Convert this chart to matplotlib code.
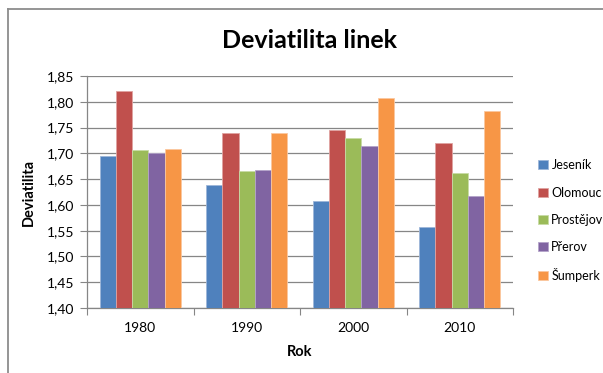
import numpy as np
import matplotlib
matplotlib.use("Agg")
import matplotlib.pyplot as plt
from matplotlib.lines import Line2D

plt.rcParams['font.family'] = ['Lato', 'DejaVu Sans']

# Data
years = ['1980', '1990', '2000', '2010']
towns = ['Jeseník', 'Olomouc', 'Prostějov', 'Přerov', 'Šumperk']
jesenik = [1.694, 1.638, 1.608, 1.558]
olomouc = [1.820, 1.739, 1.745, 1.721]
prostejov = [1.706, 1.665, 1.729, 1.661]
prerov = [1.700, 1.668, 1.715, 1.617]
sumperk = [1.708, 1.740, 1.807, 1.782]
yticks = [1.40, 1.45, 1.50, 1.55, 1.60, 1.65, 1.70, 1.75, 1.80, 1.85]

series = [jesenik, olomouc, prostejov, prerov, sumperk]
colors = ['#4F81BD', '#C0504D', '#9BBB59', '#8064A2', '#F79646']
edges = ['#9db6d9', '#e0a3a1', '#c8dba6', '#b4a3c9', '#fbc79f']

W, H = 603, 373
fig = plt.figure(figsize=(W / 100, H / 100), dpi=100)
ax = fig.add_axes([87 / W, 1 - 308 / H, (513 - 87) / W, (308 - 76) / H])

x = np.arange(len(years))
bw = 0.152
for i, (vals, c, ec) in enumerate(zip(series, colors, edges)):
    ax.bar(x + (i - 2) * bw, np.array(vals) - 1.40, bw, bottom=1.40,
           color=c, edgecolor=ec, linewidth=0.6, label=towns[i], zorder=3)

grid_c = '#868686'
ax.set_ylim(1.40, 1.85)
ax.set_xlim(-0.5, len(years) - 0.5)
ax.set_yticks(yticks)
ax.set_yticklabels([f'{v:.2f}'.replace('.', ',') for v in yticks], fontsize=10)
ax.yaxis.grid(True, color=grid_c, linewidth=0.9, zorder=0)
ax.set_axisbelow(True)

# category ticks on boundaries, labels in the middle
ax.set_xticks(np.arange(len(years) + 1) - 0.5)
ax.set_xticklabels([])
ax.set_xticks(x, minor=True)
ax.set_xticklabels(years, minor=True, fontsize=10)
ax.tick_params(axis='x', which='minor', length=0, pad=10)
ax.tick_params(axis='x', which='major', length=5, color=grid_c)
ax.tick_params(axis='y', length=5, color=grid_c, pad=4)

for s in ['top', 'right']:
    ax.spines[s].set_visible(False)
for s in ['left', 'bottom']:
    ax.spines[s].set_color(grid_c)
    ax.spines[s].set_linewidth(0.9)

ax.set_ylabel('Deviatilita', fontsize=10.5, fontweight='bold', labelpad=8)
ax.set_xlabel('Rok', fontsize=10.5, fontweight='bold', labelpad=8)

fig.text(309.5 / W, 1 - 40 / H, 'Deviatilita linek', fontsize=18,
         fontweight='bold', ha='center', va='center')

leg = fig.legend(loc='upper left', bbox_to_anchor=(527 / W, 1 - 148 / H),
                 frameon=False, fontsize=9, handlelength=0.75, handleheight=0.75,
                 handletextpad=0.3, labelspacing=1.22)

# chart frame
frame_c = '#8c8c8c'
fig.add_artist(Line2D([8 / W, 8 / W], [0, 1 - 9 / H], color=frame_c,
                      linewidth=1.3, transform=fig.transFigure))
fig.add_artist(Line2D([8 / W, 1], [1 - 9 / H, 1 - 9 / H], color=frame_c,
                      linewidth=1.3, transform=fig.transFigure))

fig.savefig('out.png', dpi=100)
